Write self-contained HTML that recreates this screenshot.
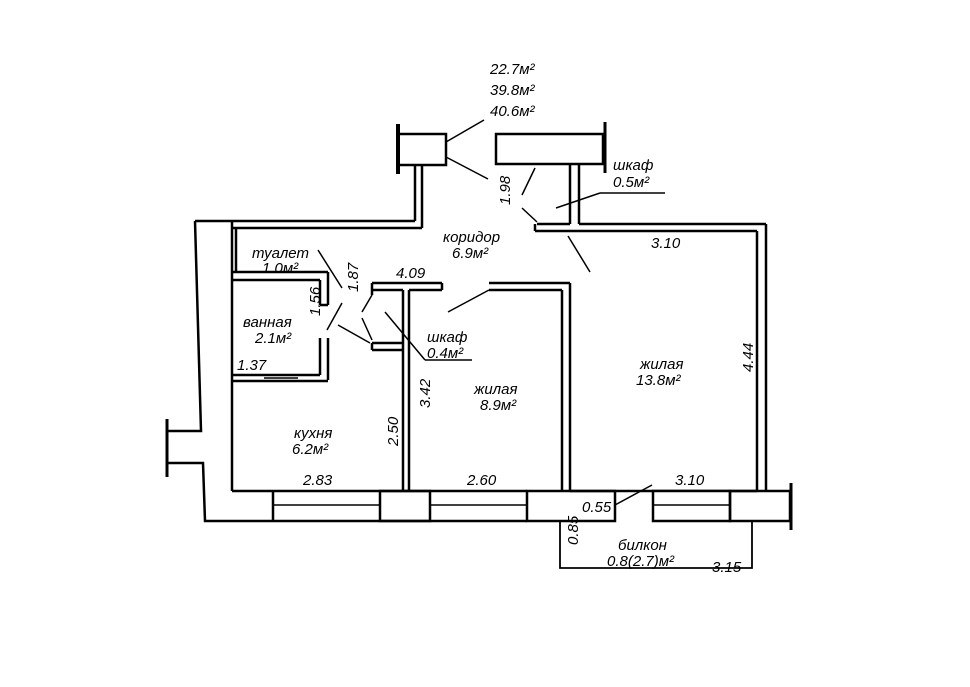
<!DOCTYPE html>
<html><head><meta charset="utf-8"><style>
html,body{margin:0;padding:0;background:#fff;}
svg{display:block}
text{font-family:"Liberation Sans",sans-serif;font-style:italic;font-size:15px;fill:#000}
</style></head><body>
<svg width="970" height="687" viewBox="0 0 970 687" xmlns="http://www.w3.org/2000/svg">
<g fill="none" stroke="#000" stroke-width="2.5">
<!-- left exterior wall -->
<polyline points="195,221 201,431 167,431"/>
<polyline points="167,463 203,463 205,521 527,521"/>
<line x1="167" y1="419" x2="167" y2="477" stroke-width="3"/>
<line x1="232" y1="221" x2="232" y2="491"/>
<line x1="236" y1="228" x2="236" y2="272"/>
<line x1="232" y1="491" x2="527" y2="491"/>
<!-- top wall -->
<line x1="195" y1="221" x2="415" y2="221"/>
<line x1="232" y1="228" x2="422" y2="228"/>
<line x1="415" y1="165" x2="415" y2="221"/>
<line x1="422" y1="165" x2="422" y2="228"/>
<rect x="398" y="134" width="48" height="31"/>
<line x1="398" y1="124" x2="398" y2="174" stroke-width="4"/>
<line x1="446" y1="142" x2="484" y2="120" stroke-width="1.5"/>
<line x1="446" y1="157" x2="488" y2="179" stroke-width="1.5"/>
<!-- right top box -->
<rect x="496" y="134" width="107" height="30"/>
<line x1="605" y1="122" x2="605" y2="173" stroke-width="3"/>
<line x1="570" y1="164" x2="570" y2="224"/>
<line x1="579" y1="164" x2="579" y2="224"/>
<line x1="537" y1="224" x2="570" y2="224"/>
<line x1="579" y1="224" x2="766" y2="224"/>
<line x1="535" y1="231" x2="757" y2="231"/>
<line x1="535" y1="224" x2="535" y2="231"/>
<line x1="757" y1="231" x2="757" y2="491"/>
<line x1="766" y1="224" x2="766" y2="491"/>
<!-- shkaf 0.5 door -->
<line x1="535" y1="168" x2="522" y2="195" stroke-width="1.5"/>
<line x1="522" y1="208" x2="537" y2="222" stroke-width="1.5"/>
<line x1="556" y1="208" x2="600" y2="193" stroke-width="1.5"/>
<line x1="600" y1="193" x2="665" y2="193" stroke-width="1.5"/>
<line x1="568" y1="236" x2="590" y2="272" stroke-width="1.5"/>
<!-- toilet/bath -->
<line x1="232" y1="272" x2="328" y2="272"/>
<line x1="232" y1="280" x2="320" y2="280"/>
<line x1="320" y1="280" x2="320" y2="305"/>
<line x1="328" y1="272" x2="328" y2="305"/>
<line x1="320" y1="305" x2="328" y2="305"/>
<line x1="320" y1="338" x2="320" y2="375"/>
<line x1="328" y1="338" x2="328" y2="380"/>
<line x1="232" y1="375" x2="320" y2="375"/>
<line x1="232" y1="381" x2="328" y2="381"/>
<line x1="264" y1="378" x2="298" y2="378" stroke-width="1.5"/>
<line x1="318" y1="250" x2="342" y2="288" stroke-width="1.5"/>
<line x1="342" y1="303" x2="327" y2="330" stroke-width="1.5"/>
<!-- shkaf 0.4 -->
<line x1="372" y1="283" x2="442" y2="283"/>
<line x1="372" y1="290" x2="403" y2="290"/>
<line x1="409" y1="290" x2="442" y2="290"/>
<line x1="442" y1="283" x2="442" y2="290"/>
<line x1="372" y1="283" x2="372" y2="295"/>
<line x1="372" y1="343" x2="372" y2="350"/>
<line x1="372" y1="343" x2="403" y2="343"/>
<line x1="372" y1="350" x2="403" y2="350"/>
<line x1="403" y1="290" x2="403" y2="491"/>
<line x1="409" y1="290" x2="409" y2="491"/>
<line x1="372" y1="295" x2="362" y2="312" stroke-width="1.5"/>
<line x1="362" y1="318" x2="372" y2="340" stroke-width="1.5"/>
<line x1="338" y1="325" x2="370" y2="343" stroke-width="1.5"/>
<line x1="385" y1="312" x2="425" y2="360" stroke-width="1.5"/>
<line x1="425" y1="360" x2="472" y2="360" stroke-width="1.5"/>
<!-- middle/big room wall -->
<line x1="489" y1="283" x2="570" y2="283"/>
<line x1="489" y1="290" x2="562" y2="290"/>
<line x1="562" y1="290" x2="562" y2="491"/>
<line x1="570" y1="283" x2="570" y2="491"/>
<line x1="489" y1="290" x2="448" y2="312" stroke-width="1.5"/>
<!-- bottom windows -->
<line x1="273" y1="491" x2="273" y2="521"/>
<line x1="273" y1="505" x2="380" y2="505" stroke-width="1.5"/>
<rect x="380" y="491" width="50" height="30"/>
<line x1="430" y1="505" x2="527" y2="505" stroke-width="1.5"/>
<rect x="527" y="491" width="88" height="30"/>
<line x1="570" y1="491" x2="757" y2="491"/>
<line x1="615" y1="505" x2="652" y2="485" stroke-width="1.5"/>
<rect x="653" y="491" width="77" height="30" fill="#fff"/>
<line x1="653" y1="505" x2="730" y2="505" stroke-width="1.5"/>
<rect x="730" y="491" width="60" height="30"/>
<line x1="791" y1="483" x2="791" y2="530" stroke-width="3"/>
<!-- balcony -->
<polyline points="560,521 560,568 752,568 752,521" stroke-width="1.8"/>
</g>
<text x="490" y="74">22.7м²</text>
<text x="490" y="95">39.8м²</text>
<text x="490" y="116">40.6м²</text>
<text x="613" y="170">шкаф</text>
<text x="613" y="187">0.5м²</text>
<text x="443" y="242">коридор</text>
<text x="452" y="258">6.9м²</text>
<text x="651" y="248">3.10</text>
<text x="252" y="258">туалет</text>
<text x="262" y="273">1.0м²</text>
<text x="396" y="278">4.09</text>
<text x="243" y="327">ванная</text>
<text x="255" y="343">2.1м²</text>
<text x="427" y="342">шкаф</text>
<text x="427" y="358">0.4м²</text>
<text x="237" y="370">1.37</text>
<text x="640" y="369">жилая</text>
<text x="636" y="385">13.8м²</text>
<text x="474" y="394">жилая</text>
<text x="480" y="410">8.9м²</text>
<text x="294" y="438">кухня</text>
<text x="292" y="454">6.2м²</text>
<text x="303" y="485">2.83</text>
<text x="467" y="485">2.60</text>
<text x="675" y="485">3.10</text>
<text x="582" y="512">0.55</text>
<text x="618" y="550">билкон</text>
<text x="607" y="566">0.8(2.7)м²</text>
<text x="712" y="572">3.15</text>
<text transform="translate(510,205) rotate(-90)">1.98</text>
<text transform="translate(358,292) rotate(-90)">1.87</text>
<text transform="translate(320,316) rotate(-90)">1.56</text>
<text transform="translate(430,408) rotate(-90)">3.42</text>
<text transform="translate(398,446) rotate(-90)">2.50</text>
<text transform="translate(753,372) rotate(-90)">4.44</text>
<text transform="translate(578,545) rotate(-90)">0.85</text>
</svg>
</body></html>
